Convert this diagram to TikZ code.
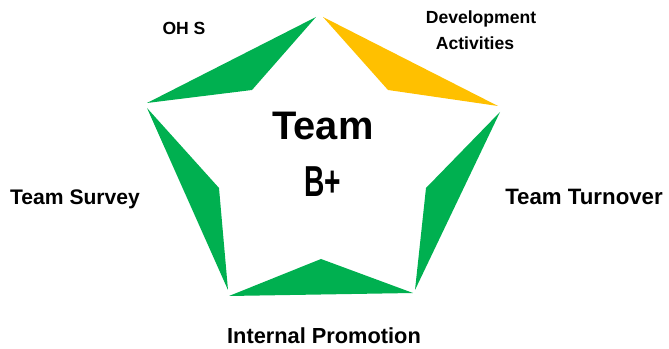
\documentclass[tikz,border=0pt]{standalone}
\usepackage{fontspec}
\setmainfont{Liberation Sans}

\definecolor{kitegreen}{RGB}{0,176,80}
\definecolor{kiteamber}{RGB}{255,192,0}

\tikzset{
    side label/.style={anchor=base, font=\bfseries\fontsize{18}{20}\selectfont},
    small label/.style={anchor=base, font=\bfseries\fontsize{15}{18}\selectfont},
}

\begin{document}
\begin{tikzpicture}[x=0.03cm,y=-0.03cm]
    \useasboundingbox (0,0) rectangle (669,349);
    % star points between the pentagon corners
    \fill[kitegreen] (147,103) -- (316,17) -- (252,90) -- cycle;
    \fill[kiteamber] (323,17) -- (498,106) -- (388,90) -- cycle;
    \fill[kitegreen] (500,112) -- (415,290) -- (426,188) -- cycle;
    \fill[kitegreen] (229,296) -- (413,293) -- (321,259) -- cycle;
    \fill[kitegreen] (147,108) -- (228,290) -- (219,188) -- cycle;
    % centre
    \node[anchor=base, font=\bfseries\fontsize{34}{36}\selectfont] (team) at (323,140) {Team};
    \node[anchor=base, font=\bfseries\fontsize{37}{40}\selectfont] (grade) at (323,197) {\scalebox{0.65}[1]{B+}};
    % labels round the outside
    \node[small label] (ohs) at (184,35) {OH S};
    \node[small label] (dev) at (481,24) {Development};
    \node[small label] (act) at (475,50) {Activities};
    \node[side label] (survey) at (75,205) {Team Survey};
    \node[side label, font=\bfseries\fontsize{19}{20}\selectfont] (turnover) at (584,205) {Team Turnover};
    \node[side label, font=\bfseries\fontsize{18.6}{20}\selectfont] (promo) at (324,344) {Internal Promotion};
\end{tikzpicture}
\end{document}
